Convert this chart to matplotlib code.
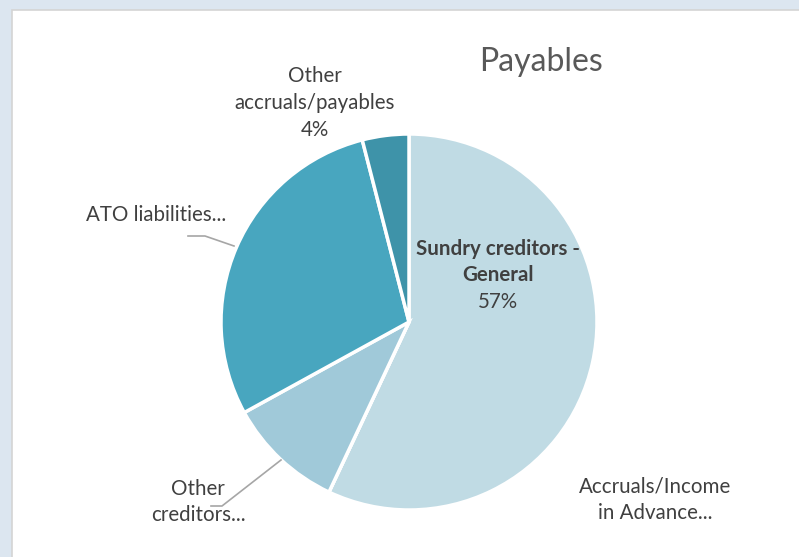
import matplotlib.pyplot as plt
from matplotlib.patches import Rectangle

# Data
categories = ['Sundry creditors -\nGeneral', 'Accruals/Income\nin Advance...',
              'Other\ncreditors...', 'ATO liabilities...', 'Other\naccruals/payables']
values = [57, 0, 10, 29, 4]
colors = ['#c0dbe4', '#b0d3df', '#a0c9d9', '#48a6bf', '#3e93a9']
title = 'Payables'

W, H = 799, 557
cx, cy, r = 409, 322, 188  # pie centre / radius in pixels (from top-left)

plt.rcParams['font.family'] = ['Lato', 'DejaVu Sans']
fig = plt.figure(figsize=(W / 100, H / 100), dpi=100, facecolor='#dce6f0')

# white chart panel with thin grey edge (only top/left visible)
fig.add_artist(Rectangle((12 / W, -0.05), 1, 1.05 - 10 / H, transform=fig.transFigure,
                         facecolor='white', edgecolor='#d4d4d4', linewidth=1.2,
                         zorder=-10))

ax = fig.add_axes([(cx - r) / W, (H - cy - r) / H, 2 * r / W, 2 * r / H])
ax.set_zorder(5)
ax.patch.set_visible(False)
ax.pie(values, colors=colors, startangle=90, counterclock=False, radius=1,
       wedgeprops=dict(edgecolor='white', linewidth=2.5))
ax.set_xlim(-1, 1)
ax.set_ylim(-1, 1)
ax.axis('off')


def px(x, y):
    # pixel position -> data coordinates of the pie axes
    return (x - cx) / r, (cy - y) / r


total = sum(values)
pct = [f"{v / total * 100:.0f}%" for v in values]
txt = '#404040'
fs = 14.8
ls = 1.42

# title
fig.text(541 / W, 1 - 62 / H, title, ha='center', va='center', fontsize=23,
         color='#595959', zorder=6)

# inside label for the big slice
ax.text(*px(498, 262), categories[0], ha='center', va='center', fontsize=fs,
        fontweight='bold', color=txt, linespacing=ls, clip_on=False)
ax.text(*px(498, 302), pct[0], ha='center', va='center', fontsize=fs, color=txt)

# outside labels
ax.text(*px(315, 103), categories[4] + '\n' + pct[4], ha='center', va='center',
        fontsize=fs, color=txt, linespacing=ls, clip_on=False)
ax.text(*px(156, 215), categories[3], ha='center', va='center', fontsize=fs,
        color=txt, clip_on=False)
ax.text(*px(198, 502), categories[2], ha='center', va='center', fontsize=fs,
        color=txt, linespacing=ls, clip_on=False)
ax.text(*px(655, 500), categories[1], ha='center', va='center', fontsize=fs,
        color=txt, linespacing=ls, clip_on=False)

# leader lines
for pts in ([(234, 246), (205, 236), (188, 236)],
            [(281, 460), (222, 506), (211, 506)]):
    xs, ys = zip(*[px(*p) for p in pts])
    ax.plot(xs, ys, color='#a6a6a6', linewidth=1.2, clip_on=False)

fig.savefig('out.png', dpi=100, facecolor=fig.get_facecolor())
